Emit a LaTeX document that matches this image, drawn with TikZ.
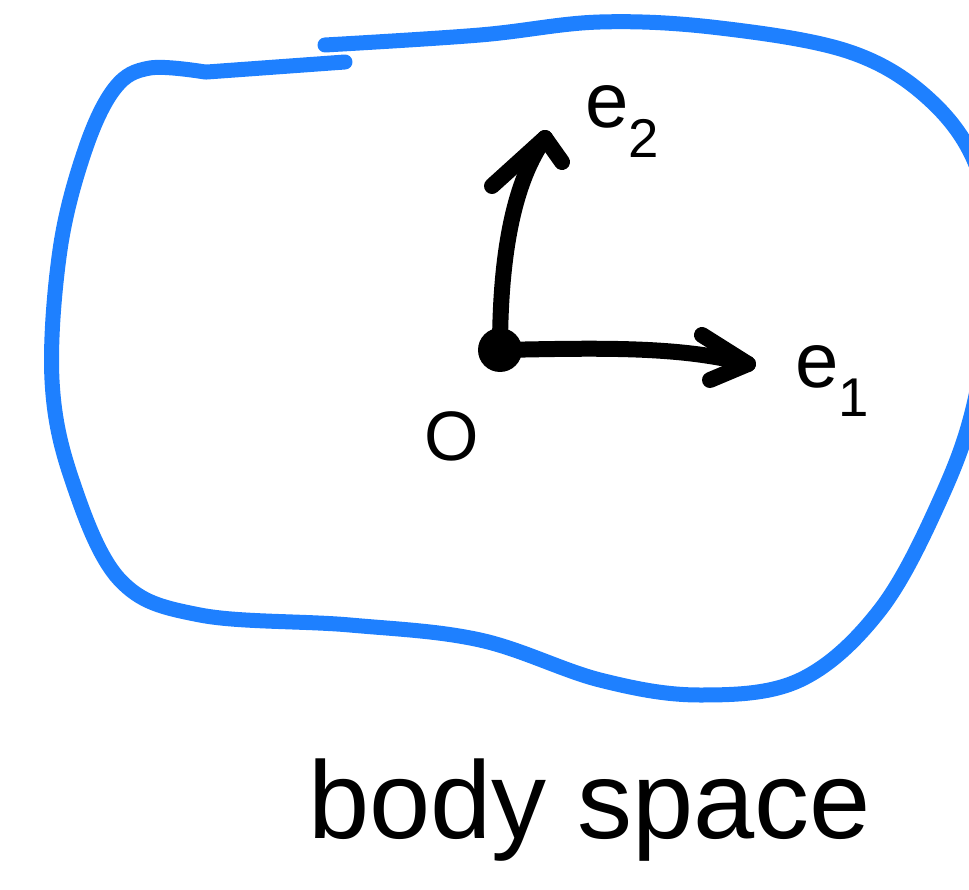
\documentclass[tikz,border=0pt]{standalone}
\usepackage{fontspec}
\setmainfont{Liberation Sans}
\definecolor{bodyblue}{HTML}{1E80FF}
\begin{document}
\begin{tikzpicture}[x=1pt,y=-1pt,
  blob/.style={draw=bodyblue,line width=15pt,line cap=round,line join=round},
  vec/.style={draw=black,line width=16pt,line cap=round,line join=round},
  lbl/.style={font=\fontsize{78}{80}\selectfont,inner sep=0pt}]
\useasboundingbox (0,0) rectangle (969,890);
\clip (0,0) rectangle (969,890);
% body outline
\draw[blob] plot[smooth,tension=0.6] coordinates {(325,45) (480,35) (600,22) (720,28) (850,52) (930,100) (978,170) (992,270) (975,400) (940,500) (880,610) (800,680) (700,695) (600,680) (480,640) (350,625) (200,615) (120,580) (72,480) (52,380) (60,250) (85,150) (115,88) (150,68) (205,72)};
\draw[blob] (207,72) -- (345,62);
% origin and vectors
\node[circle,fill=black,minimum size=44pt,inner sep=0pt] (origin) at (500,350) {};
\coordinate (e2tip) at (545,138);
\coordinate (e1tip) at (748,364);
\coordinate (e2l) at (492,186);
\coordinate (e2r) at (562,162);
\coordinate (e1u) at (702,335);
\coordinate (e1d) at (710,380);
\draw[vec] (origin.center) .. controls (500,250) and (515,180) .. (e2tip);
\draw[vec] (e2l) -- (e2tip) -- (e2r);
\draw[vec] (origin.center) .. controls (600,348) and (680,346) .. (e1tip);
\draw[vec] (e1u) -- (e1tip) -- (e1d);
% labels
\node[lbl,anchor=base west] (e2lab) at (585,128) {e\textsubscript{2}};
\node[lbl,anchor=base west] (e1lab) at (795,388) {e\textsubscript{1}};
\node[lbl,font=\fontsize{70}{72}\selectfont] (olab) at (452,436) {O};
\node[font=\fontsize{110}{112}\selectfont,inner sep=0pt,anchor=base west] (title) at (308,838) {body space};
\end{tikzpicture}
\end{document}
